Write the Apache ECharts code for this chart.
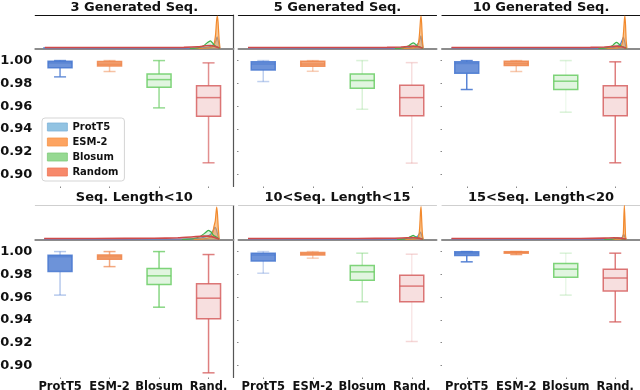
<!DOCTYPE html>
<html><head><meta charset="utf-8">
<script src="https://cdn.jsdelivr.net/npm/echarts@6/dist/echarts.min.js"></script>
<style>html,body{margin:0;padding:0;background:#fff}#c{width:640px;height:390px}</style>
</head><body><div id="c"></div>
<script>
const methods = ['ProtT5', 'ESM-2', 'Blosum', 'Random'];
const categories = ['ProtT5', 'ESM-2', 'Blosum', 'Rand.'];
const panelTitles = ['3 Generated Seq.', '5 Generated Seq.', '10 Generated Seq.', 'Seq. Length<10', '10<Seq. Length<15', '15<Seq. Length<20'];
const yTicks = [0.90, 0.92, 0.94, 0.96, 0.98, 1.00];

// box stats per panel: [min, Q1, median, Q3, max]
const boxProtT5 = [
  [0.9857, 0.9936, 0.9980, 0.9995, 1.0000],
  [0.9816, 0.9918, 0.9970, 0.9989, 1.0000],
  [0.9746, 0.9889, 0.9975, 0.9989, 1.0000],
  [0.9618, 0.9825, 0.9955, 0.9968, 1.0000],
  [0.9810, 0.9918, 0.9970, 0.9986, 1.0000],
  [0.9910, 0.9965, 0.9985, 0.9998, 1.0000]
];
const boxESM2 = [
  [0.9904, 0.9953, 0.9968, 0.9993, 1.0000],
  [0.9906, 0.9950, 0.9970, 0.9994, 1.0000],
  [0.9904, 0.9956, 0.9975, 0.9994, 1.0000],
  [0.9868, 0.9933, 0.9954, 0.9971, 1.0000],
  [0.9942, 0.9971, 0.9980, 0.9991, 1.0000],
  [0.9974, 0.9986, 0.9993, 0.9999, 1.0000]
];
const boxBlosum = [
  [0.9585, 0.9766, 0.9833, 0.9883, 1.0000],
  [0.9573, 0.9757, 0.9825, 0.9883, 1.0000],
  [0.9547, 0.9746, 0.9819, 0.9871, 1.0000],
  [0.9512, 0.9711, 0.9787, 0.9851, 1.0000],
  [0.9559, 0.9749, 0.9822, 0.9877, 0.9986],
  [0.9618, 0.9775, 0.9846, 0.9895, 0.9986]
];
const boxRandom = [
  [0.9103, 0.9511, 0.9675, 0.9780, 0.9980],
  [0.9100, 0.9515, 0.9675, 0.9783, 0.9982],
  [0.9103, 0.9515, 0.9675, 0.9780, 0.9989],
  [0.8936, 0.9410, 0.9591, 0.9717, 0.9974],
  [0.9211, 0.9559, 0.9697, 0.9793, 0.9977],
  [0.9383, 0.9655, 0.9768, 0.9846, 0.9986]
];

// density curves (unlabelled axis, 0..1 across panel) per panel: [x, density]
const kdeProtT5 = [
  [[0.040,0.02],[0.3,0.01],[0.7,0.01],[0.84,0.02],[0.88,0.05],[0.90,0.11],[0.912,0.22],[0.918,0.35],[0.924,0.22],[0.932,0]],
  [[0.048,0.02],[0.3,0.01],[0.7,0.01],[0.84,0.02],[0.88,0.04],[0.90,0.10],[0.914,0.22],[0.921,0.38],[0.926,0.20],[0.932,0]],
  [[0.048,0.02],[0.3,0.01],[0.7,0.01],[0.84,0.02],[0.88,0.05],[0.90,0.12],[0.910,0.25],[0.916,0.34],[0.923,0.20],[0.930,0]],
  [[0.045,0.02],[0.3,0.01],[0.7,0.015],[0.82,0.03],[0.86,0.08],[0.885,0.15],[0.90,0.28],[0.907,0.36],[0.914,0.30],[0.922,0.12],[0.928,0]],
  [[0.048,0.02],[0.3,0.01],[0.7,0.01],[0.85,0.02],[0.89,0.05],[0.905,0.10],[0.915,0.18],[0.920,0.22],[0.925,0.12],[0.932,0]],
  [[0.048,0.02],[0.3,0.01],[0.7,0.01],[0.86,0.01],[0.90,0.03],[0.912,0.08],[0.918,0.15],[0.923,0.08],[0.930,0]]
];
const kdeESM2 = [
  [[0.80,0],[0.86,0.01],[0.89,0.04],[0.90,0.10],[0.906,0.22],[0.911,0.45],[0.915,0.80],[0.919,0.97],[0.923,0.80],[0.928,0.30],[0.933,0]],
  [[0.82,0],[0.87,0.01],[0.895,0.04],[0.905,0.10],[0.911,0.25],[0.915,0.50],[0.919,0.85],[0.922,0.97],[0.925,0.75],[0.929,0.25],[0.933,0]],
  [[0.82,0],[0.87,0.01],[0.895,0.04],[0.907,0.10],[0.913,0.25],[0.917,0.50],[0.921,0.85],[0.924,0.97],[0.927,0.70],[0.930,0.25],[0.934,0]],
  [[0.80,0],[0.85,0.02],[0.88,0.06],[0.895,0.18],[0.903,0.40],[0.909,0.55],[0.913,0.80],[0.916,0.95],[0.920,0.75],[0.924,0.35],[0.929,0]],
  [[0.84,0],[0.88,0.01],[0.90,0.03],[0.910,0.10],[0.915,0.35],[0.919,0.80],[0.922,0.97],[0.925,0.60],[0.929,0.15],[0.933,0]],
  [[0.86,0],[0.90,0.01],[0.911,0.04],[0.916,0.20],[0.919,0.75],[0.921,1.00],[0.924,0.60],[0.927,0.10],[0.930,0]]
];
const kdeBlosum = [
  [[0.78,0],[0.82,0.02],[0.85,0.08],[0.87,0.18],[0.884,0.23],[0.895,0.17],[0.905,0.09],[0.915,0.06],[0.925,0.03],[0.932,0]],
  [[0.79,0],[0.83,0.02],[0.86,0.08],[0.873,0.14],[0.883,0.17],[0.893,0.13],[0.905,0.07],[0.918,0.04],[0.932,0]],
  [[0.79,0],[0.83,0.02],[0.86,0.08],[0.872,0.15],[0.882,0.18],[0.892,0.14],[0.905,0.07],[0.918,0.04],[0.932,0]],
  [[0.74,0],[0.79,0.02],[0.83,0.08],[0.855,0.18],[0.874,0.27],[0.888,0.22],[0.90,0.12],[0.912,0.08],[0.922,0.04],[0.928,0]],
  [[0.80,0],[0.84,0.02],[0.86,0.06],[0.874,0.10],[0.882,0.12],[0.892,0.09],[0.905,0.05],[0.92,0.03],[0.932,0]],
  [[0.82,0],[0.86,0.01],[0.875,0.03],[0.884,0.05],[0.895,0.04],[0.91,0.02],[0.93,0]]
];
const kdeRandom = [
  [[0.048,0.03],[0.3,0.03],[0.6,0.03],[0.75,0.035],[0.82,0.05],[0.86,0.08],[0.885,0.09],[0.905,0.07],[0.92,0.04],[0.93,0.01]],
  [[0.048,0.03],[0.3,0.03],[0.6,0.03],[0.75,0.035],[0.82,0.045],[0.86,0.06],[0.885,0.07],[0.905,0.05],[0.92,0.03],[0.93,0.01]],
  [[0.048,0.03],[0.3,0.03],[0.6,0.03],[0.75,0.035],[0.82,0.045],[0.86,0.06],[0.885,0.07],[0.905,0.05],[0.92,0.03],[0.93,0.01]],
  [[0.045,0.03],[0.3,0.03],[0.6,0.035],[0.72,0.05],[0.80,0.08],[0.85,0.10],[0.875,0.10],[0.90,0.07],[0.915,0.04],[0.928,0.01]],
  [[0.048,0.03],[0.3,0.03],[0.6,0.03],[0.78,0.035],[0.85,0.05],[0.88,0.06],[0.905,0.04],[0.93,0.01]],
  [[0.048,0.03],[0.4,0.03],[0.7,0.03],[0.82,0.04],[0.87,0.05],[0.90,0.04],[0.92,0.02],[0.93,0.01]]
];

const boxData = [boxProtT5, boxESM2, boxBlosum, boxRandom];
const kdeData = [kdeProtT5, kdeESM2, kdeBlosum, kdeRandom];

// styles
const FONT = '"DejaVu Sans", Verdana, sans-serif';
const rgbs = [[72,120,208],[238,133,74],[106,204,100],[214,95,95]];
const boxFillA = [0.8, 0.75, 0.2, 0.2];
const medianA = [0.5, 0.6, 0.8, 0.8];
const whiskerAlpha = [
  [0.8, 0.5, 0.7, 0.7],
  [0.35, 0.4, 0.25, 0.2],
  [0.9, 0.45, 0.1, 0.8],
  [0.4, 0.7, 0.8, 0.8],
  [0.3, 0.4, 0.4, 0.15],
  [0.9, 0.8, 0.15, 0.8]
];
const kdeLine = ['#4a7fd1', '#f28a2e', '#3bb34a', '#cf4a4a'];
const kdeLineW = [1.2, 1.2, 1.2, 1.6];
const kdeArea = ['rgba(90,140,215,0.45)', 'rgba(247,160,70,0.85)', 'rgba(120,205,120,0.35)', 'rgba(225,110,100,0.35)'];
const legendColors = ['#92c3e2', '#fda461', '#96d992', '#f7896b'];
const legendBorders = ['#7fb3d9', '#f59448', '#80cc7c', '#ee7755'];

const colLeft = [35.3, 238.5, 442], panelW = 198;
const densTop = [15, 205.5], densH = [33.5, 34];
const boxTop = [48.5, 239.5], boxH = 138;
const yMin = 0.8895, yMax = 1.0106;

function rgba(c, a) { return 'rgba(' + c[0] + ',' + c[1] + ',' + c[2] + ',' + a + ')'; }

function makeBoxRender(p) {
  return function (params, api) {
    const ci = api.value(0);
    const vals = [api.value(1), api.value(2), api.value(3), api.value(4), api.value(5)];
    const x = api.coord([ci, vals[0]])[0];
    const ys = vals.map(v => api.coord([ci, v])[1]);
    const bw = api.size([1, 0])[0] * 0.485;
    const cw = bw * 0.5;
    const c = rgbs[ci];
    const wa = whiskerAlpha[p][ci];
    const wcol = rgba(c, wa);
    const capcol = rgba(c, Math.max(wa, 0.25));
    const lw = 1.5;
    return {
      type: 'group',
      children: [
        { type: 'line', shape: { x1: x, y1: ys[0], x2: x, y2: ys[1] }, style: { stroke: wcol, lineWidth: lw } },
        { type: 'line', shape: { x1: x, y1: ys[3], x2: x, y2: ys[4] }, style: { stroke: wcol, lineWidth: lw } },
        { type: 'line', shape: { x1: x - cw / 2, y1: ys[0], x2: x + cw / 2, y2: ys[0] }, style: { stroke: capcol, lineWidth: lw } },
        { type: 'line', shape: { x1: x - cw / 2, y1: ys[4], x2: x + cw / 2, y2: ys[4] }, style: { stroke: capcol, lineWidth: lw } },
        { type: 'rect', shape: { x: x - bw / 2, y: ys[3], width: bw, height: Math.max(ys[1] - ys[3], 1) },
          style: { fill: rgba(c, boxFillA[ci]), stroke: rgba(c, 0.85), lineWidth: lw } },
        { type: 'line', shape: { x1: x - bw / 2, y1: ys[2], x2: x + bw / 2, y2: ys[2] }, style: { stroke: rgba(c, medianA[ci]), lineWidth: lw } }
      ]
    };
  };
}

const grid = [], xAxis = [], yAxis = [], series = [], graphic = [];
const hidden = { axisLine: { show: false }, axisTick: { show: false }, axisLabel: { show: false }, splitLine: { show: false } };

for (let p = 0; p < 6; p++) {
  const r = Math.floor(p / 3), c = p % 3;
  // density grid
  const gi = grid.length;
  grid.push({ left: colLeft[c], top: densTop[r], width: panelW, height: densH[r], containLabel: false, outerBoundsMode: 'none' });
  const dx = xAxis.length;
  xAxis.push(Object.assign({}, hidden, { type: 'value', gridIndex: gi, min: 0, max: 1,
    axisLine: { show: true, onZero: false, lineStyle: { color: '#8c8c8c', width: 2 } } }));
  xAxis.push(Object.assign({}, hidden, { type: 'value', gridIndex: gi, position: 'top', min: 0, max: 1,
    axisLine: { show: true, onZero: false, lineStyle: { color: r === 0 ? '#111' : '#cfcfcf', width: r === 0 ? 1.2 : 1 } } }));
  const dy = yAxis.length;
  yAxis.push(Object.assign({}, hidden, { type: 'value', gridIndex: gi, min: 0, max: 1 }));
  if (c === 0) {
    yAxis.push(Object.assign({}, hidden, { type: 'value', gridIndex: gi, position: 'right', min: 0, max: 1,
      axisLine: { show: true, onZero: false, lineStyle: { color: '#555', width: 1.2 } } }));
  }
  // box grid
  const bg = grid.length;
  grid.push({ left: colLeft[c], top: boxTop[r], width: panelW, height: boxH, containLabel: false, outerBoundsMode: 'none' });
  const bx = xAxis.length;
  xAxis.push({ type: 'category', gridIndex: bg, data: categories, boundaryGap: true,
    axisLine: { show: false }, axisTick: { show: true, alignWithLabel: true, length: 1.5, lineStyle: { color: '#888' } },
    axisLabel: { show: r === 1, interval: 0, hideOverlap: false, fontFamily: FONT, fontWeight: 'bold', fontSize: 11.5, color: '#111', margin: 4 },
    splitLine: { show: false } });
  const by = yAxis.length;
  yAxis.push({ type: 'value', gridIndex: bg, min: yMin, max: yMax,
    axisLine: { show: false },
    axisTick: { show: c !== 0, length: 1.5, customValues: yTicks, lineStyle: { color: '#888' } },
    axisLabel: { show: c === 0, customValues: yTicks, formatter: v => Number(v).toFixed(2),
      fontFamily: FONT, fontWeight: 'bold', fontSize: 13, color: '#111', margin: 3 },
    splitLine: { show: false } });
  if (c === 0) {
    yAxis.push(Object.assign({}, hidden, { type: 'value', gridIndex: bg, position: 'right', min: 0, max: 1,
      axisLine: { show: true, onZero: false, lineStyle: { color: '#555', width: 1.2 } } }));
  }

  for (let m = 0; m < 4; m++) {
    series.push({ type: 'line', name: methods[m], xAxisIndex: dx, yAxisIndex: dy, data: kdeData[m][p],
      showSymbol: false, symbol: 'none', smooth: 0.15, silent: true, z: 2 + m,
      lineStyle: { color: kdeLine[m], width: kdeLineW[m] }, itemStyle: { color: kdeLine[m] },
      areaStyle: { color: kdeArea[m], origin: 'start' } });
  }
  series.push({ type: 'custom', xAxisIndex: bx, yAxisIndex: by, renderItem: makeBoxRender(p), silent: true, z: 3,
    data: methods.map((m, i) => [i].concat(boxData[i][p])), encode: { x: 0, y: [1, 2, 3, 4, 5] } });

  graphic.push({ type: 'text', x: colLeft[c] + panelW / 2, y: r === 0 ? 8 : 198,
    style: { text: panelTitles[p], fontFamily: FONT, fontWeight: 'bold', fontSize: 13, fill: '#111',
      align: 'center', verticalAlign: 'middle', textAlign: 'center', textVerticalAlign: 'middle' } });
}

const chart = echarts.init(document.getElementById('c'), null, { renderer: 'canvas' });
chart.setOption({
  backgroundColor: '#fff',
  animation: false,
  grid, xAxis, yAxis, series, graphic,
  legend: {
    orient: 'vertical', left: 42, top: 118, icon: 'rect', itemWidth: 20, itemHeight: 8, itemGap: 5,
    padding: [4, 6, 4, 5], backgroundColor: 'rgba(255,255,255,0.9)', borderColor: '#d5d5d5', borderWidth: 1, borderRadius: 3,
    selectedMode: false, z: 10,
    textStyle: { fontFamily: FONT, fontWeight: 'bold', fontSize: 10, color: '#111', lineHeight: 10 },
    data: methods.map((m, i) => ({ name: m, itemStyle: { color: legendColors[i], borderColor: legendBorders[i], borderWidth: 0.8 } }))
  }
});
</script></body></html>
